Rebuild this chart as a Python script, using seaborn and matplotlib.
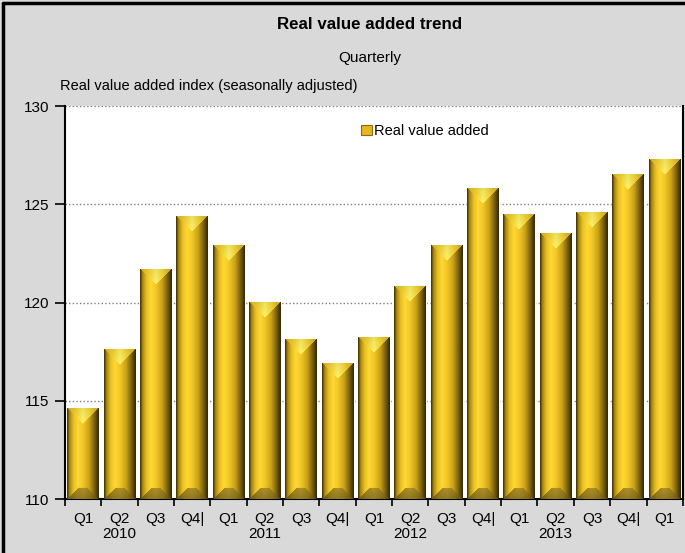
import numpy as np
import pandas as pd
import matplotlib
matplotlib.use("Agg")
import matplotlib.pyplot as plt
from matplotlib.patches import Patch
from matplotlib.lines import Line2D
from matplotlib.colors import to_rgb
import seaborn as sns

# Quarterly real value added index (seasonally adjusted)
years = ["2010", "2010", "2010", "2010",
         "2011", "2011", "2011", "2011",
         "2012", "2012", "2012", "2012",
         "2013", "2013", "2013", "2013",
         "2014"]
quarters = ["Q1", "Q2", "Q3", "Q4|",
            "Q1", "Q2", "Q3", "Q4|",
            "Q1", "Q2", "Q3", "Q4|",
            "Q1", "Q2", "Q3", "Q4|",
            "Q1"]
tick_labels = ["Q1", "Q2\n2010", "Q3", "Q4|",
               "Q1", "Q2\n2011", "Q3", "Q4|",
               "Q1", "Q2\n2012", "Q3", "Q4|",
               "Q1", "Q2\n2013", "Q3", "Q4|",
               "Q1"]
values = [114.6, 117.6, 121.7, 124.4,
          122.9, 120.0, 118.1, 116.9,
          118.2, 120.8, 122.9, 125.8,
          124.5, 123.5, 124.6, 126.5,
          127.3]

df = pd.DataFrame({
    "period": [f"{y} {q}" for y, q in zip(years, quarters)],
    "index": values,
})

sns.set_theme(style="white")
plt.rcParams["font.family"] = ["Liberation Sans", "DejaVu Sans"]
plt.rcParams["text.color"] = "black"
plt.rcParams["xtick.color"] = "black"
plt.rcParams["ytick.color"] = "black"
plt.rcParams["xtick.labelcolor"] = "black"
plt.rcParams["ytick.labelcolor"] = "black"

BG = "#d9d9d9"
FS = 10.5
fig = plt.figure(figsize=(6.85, 5.53), dpi=100, facecolor=BG)
ax = fig.add_axes([0.0949, 0.0976, 0.902, 0.7105])
ax.set_facecolor("white")

sns.barplot(data=df, x="period", y="index", color="#e6b820",
            width=0.88, saturation=1, ax=ax, zorder=2)

YMIN, YMAX = 110, 130
ax.set_ylim(YMIN, YMAX)
ax.set_xlim(-0.5, len(values) - 0.5)
ax.set_yticks([110, 115, 120, 125, 130])
ax.tick_params(axis="y", which="major", direction="out", length=7, width=1.2,
               color="black", labelcolor="black", labelsize=FS + 0.5, pad=4, left=True)

# quarter labels under bars, tick marks on the category boundaries
ax.set_xticks(range(len(values)))
ax.set_xticklabels(tick_labels, fontsize=FS + 0.5, linespacing=1.1, color="black")
ax.tick_params(axis="x", which="major", length=0, pad=9)
ax.set_xticks(np.arange(-0.5, len(values) - 0.4, 1.0), minor=True)
ax.tick_params(axis="x", which="minor", direction="out", length=5, width=1.2,
               color="black", bottom=True)
ax.set_xlabel("")
ax.set_ylabel("")

# dotted horizontal gridlines
ax.yaxis.grid(True, linestyle=(0, (1, 1.6)), color="#7f7f7f", linewidth=1.0, zorder=0)
ax.xaxis.grid(False)
ax.set_axisbelow(True)
for side in ["left", "bottom", "right"]:
    ax.spines[side].set_visible(True)
    ax.spines[side].set_color("black")
    ax.spines[side].set_linewidth(1.5)
ax.spines["top"].set_visible(False)


def lerp_profile(stops, n):
    pos = np.array([s[0] for s in stops])
    cols = np.array([to_rgb(s[1]) for s in stops])
    u = np.linspace(0, 1, n)
    return np.stack([np.interp(u, pos, cols[:, k]) for k in range(3)], axis=1)


side_stops = [(0.0, "#4a3c08"), (0.07, "#a8860f"), (0.2, "#e8c024"),
              (0.34, "#ffd836"), (0.5, "#f2c826"), (0.7, "#caa118"),
              (0.86, "#7e6410"), (1.0, "#382c06")]
top_stops = [(0.0, "#e4b61e"), (0.3, "#fbda38"), (0.5, "#fff46c"),
             (0.7, "#fbda38"), (1.0, "#d8ac1a")]
bot_stops = [(0.0, "#7a6214"), (0.25, "#a48620"), (0.5, "#ae9028"),
             (0.75, "#9a7e1c"), (1.0, "#6a540e")]


def bevel_bar(w, h):
    """RGB image of a bevelled gold column, w x h pixels."""
    img = np.zeros((h, w, 3))
    img[:] = lerp_profile(side_stops, w)[None, :, :]
    xs = np.arange(w) + 0.5
    edge = np.minimum(xs, w - xs)
    top = lerp_profile(top_stops, w)
    bot = lerp_profile(bot_stops, w)
    bot_depth = 0.34 * w
    for r in range(h):
        d_top = r + 0.5
        mask_t = d_top < edge
        img[r, mask_t] = top[mask_t] * (0.92 + 0.08 * d_top / (w / 2))
        d_bot = h - r - 0.5
        mask_b = (d_bot < edge) & (d_bot < bot_depth) & ~mask_t
        shade = 1.0 - 0.15 * (1 - d_bot / bot_depth)
        img[r, mask_b] = bot[mask_b] * shade
    return np.clip(img, 0, 1)


fig.canvas.draw()
for patch in ax.patches:
    x0 = patch.get_x()
    bw = patch.get_width()
    top_v = patch.get_y() + patch.get_height()
    p0 = ax.transData.transform((x0, YMIN))
    p1 = ax.transData.transform((x0 + bw, top_v))
    wpx = max(int(round(p1[0] - p0[0])), 2)
    hpx = max(int(round(p1[1] - p0[1])), 2)
    ax.imshow(bevel_bar(wpx, hpx), extent=[x0, x0 + bw, YMIN, top_v],
              aspect="auto", interpolation="bilinear", zorder=3)
ax.set_xlim(-0.5, len(values) - 0.5)
ax.set_ylim(YMIN, YMAX)

# legend
handle = Patch(facecolor="#e6b820", edgecolor="#8a6c10", linewidth=0.8)
ax.legend(handles=[handle], labels=["Real value added"], loc="center left",
          bbox_to_anchor=(0.468, 0.936), frameon=False, fontsize=FS,
          handlelength=0.7, handleheight=0.7, handletextpad=0.15, borderpad=0,
          labelcolor="black")

# titles
fig.text(0.54, 0.955, "Real value added trend", ha="center", va="center",
         fontsize=12.2, fontweight="bold", color="black")
fig.text(0.54, 0.895, "Quarterly", ha="center", va="center", fontsize=FS + 0.5,
         color="black")
fig.text(0.0876, 0.844, "Real value added index (seasonally adjusted)",
         ha="left", va="center", fontsize=FS, color="black")

# outer frame on the left and top edges
fig.add_artist(Line2D([0.0051, 0.0051], [0, 0.9946], transform=fig.transFigure,
                      color="black", linewidth=2.5))
fig.add_artist(Line2D([0.0051, 1.0], [0.9946, 0.9946], transform=fig.transFigure,
                      color="black", linewidth=2.5))

fig.savefig("out.png", dpi=100, facecolor=BG)
